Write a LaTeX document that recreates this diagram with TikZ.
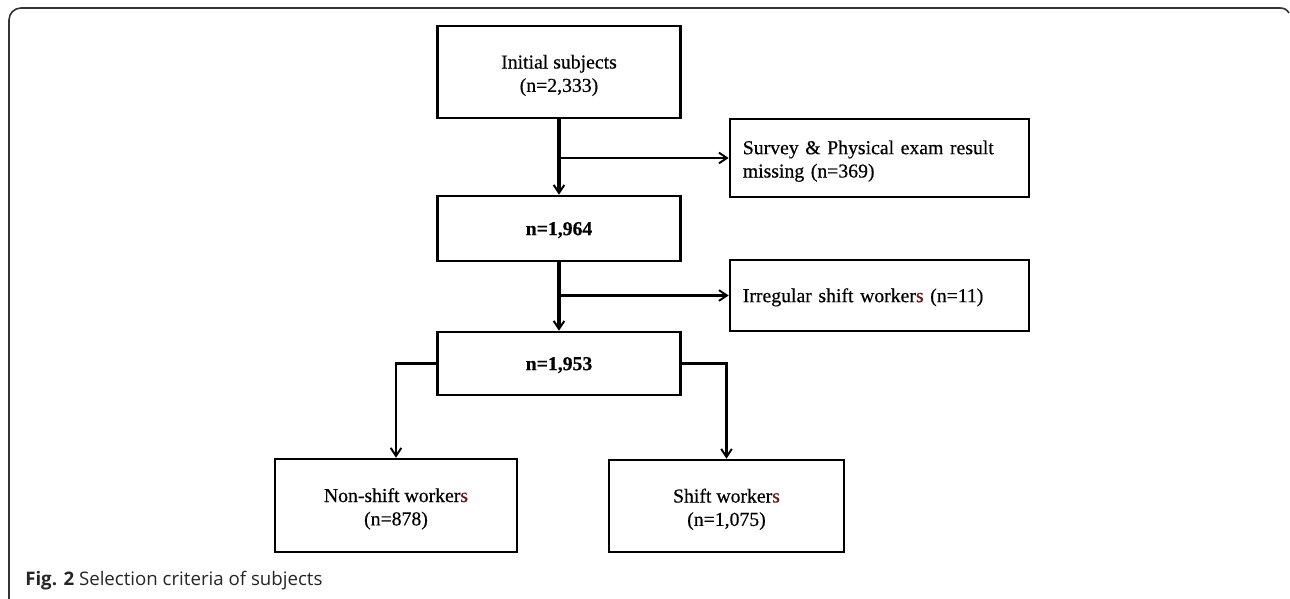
\documentclass[tikz,border=0pt]{standalone}
\usepackage{fontspec}
\setmainfont{Liberation Serif}[FakeBold=0.5]
\newfontfamily\capfont{Open Sans}
\usetikzlibrary{arrows.meta,calc}
\definecolor{redtint}{RGB}{105,25,25}
\begin{document}
\begin{tikzpicture}[x=0.75pt,y=-0.75pt,
  basebox/.style={draw=black,line width=1.9pt,inner sep=0pt,
    font=\fontsize{14.8}{17.5}\selectfont},
  box/.style={basebox,minimum width=#1,align=center},
  oneline/.style={text height=12pt,text depth=2pt},
  twoline/.style={text height=32pt,text depth=2.2pt},
  twolinetop/.style={text height=16.5pt,text depth=22.2pt},
  sidebox/.style={basebox,minimum width=224.25pt,inner xsep=9.5pt,
    align=left,text width=205pt},
  mainarrow/.style={line width=2.3pt,-{Straight Barb[length=6pt,width=8pt,line width=1.5pt]}},
  sidearrow/.style={line width=1.6pt,-{Straight Barb[length=6pt,width=8pt,line width=1.5pt]}},
  frame/.style={draw=black!80,line width=1.2pt}]
\useasboundingbox (0,0) rectangle (1290,599);
% frame
\draw[frame] (9,599) -- (9,20) arc[start angle=180,end angle=270,radius=12] -- (1280,8) to[out=0,in=120] (1289,13);
% nodes
\node[box=182.25pt,minimum height=69pt,twoline] (b1) at (559,72) {Initial subjects\\(n=2,333)};
\node[box=182.25pt,minimum height=48.75pt,oneline] (b2) at (559,228.5) {\textbf{n=1,964}};
\node[box=182.25pt,minimum height=47.25pt,oneline] (b3) at (559,363.5) {\textbf{n=1,953}};
\node[sidebox,minimum height=58.5pt,twolinetop] (s1) at (879.5,158) {Survey \& Physical exam result\\missing (n=369)};
\node[sidebox,minimum height=53.25pt,oneline] (s2) at (879.5,295.5) {Irregular shift worker\textcolor{redtint}{s} (n=11)};
\node[box=181.5pt,minimum height=69.75pt,twoline] (n1) at (396,505.5) {Non-shift worker\textcolor{redtint}{s}\\(n=878)};
\node[box=176.25pt,minimum height=69pt,twoline] (n2) at (726.5,506) {Shift worker\textcolor{redtint}{s}\\(n=1,075)};
\node[anchor=base west,inner sep=0pt,text=black!85,font=\capfont\fontsize{14}{16}\selectfont] (cap) at (25,585) {\textbf{Fig. 2} Selection criteria of subjects};
% connectors
\coordinate (j1) at (b1.south |- s1.west);
\coordinate (j2) at (b2.south |- s2.west);
\draw[mainarrow] (b1.south) -- (b2.north);
\draw[mainarrow] (b2.south) -- (b3.north);
\draw[sidearrow] (j1) -- (s1.west);
\draw[sidearrow] (j2) -- (s2.west);
\draw[sidearrow] (b3.west) -| (n1.north);
\draw[sidearrow] (b3.east) -| (n2.north);
\end{tikzpicture}
\end{document}
